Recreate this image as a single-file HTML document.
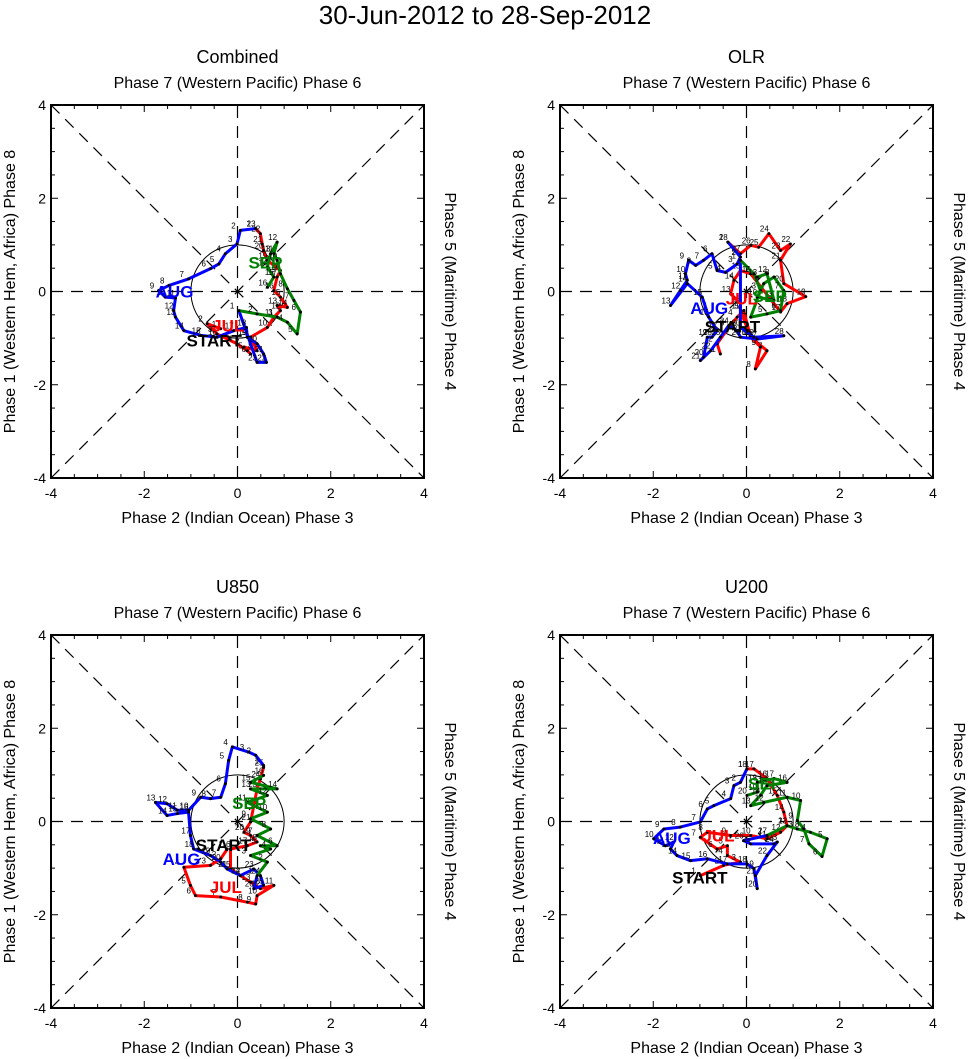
<!DOCTYPE html>
<html><head><meta charset="utf-8"><style>
body{margin:0;background:#fff;}
svg{display:block;font-family:"Liberation Sans",sans-serif;}
</style></head><body>
<svg id="chart" width="971" height="1059" viewBox="0 0 971 1059" xmlns="http://www.w3.org/2000/svg">
<text x="485" y="24" font-size="26" text-anchor="middle">30-Jun-2012 to 28-Sep-2012</text>
</svg>
<script>
// Panel 1: Combined
const p1Jul_x=[-0.36,-0.65,-0.44,-0.01,0.21,0.28,0.14,0.42,0.28,0.64,0.78,0.92,0.85,1.07,0.92,0.78,0.85,0.92,0.64,0.56,0.53,0.49,0.39];
const p1Jul_y=[-0.80,-0.69,-0.91,-1.12,-1.27,-1.34,-1.19,-1.27,-0.98,-0.77,-0.55,-0.41,-0.30,-0.34,-0.12,0.02,0.31,0.45,0.67,0.88,1.02,1.24,1.35];
const p1Aug_x=[0.39,0.06,-0.01,-0.26,-0.40,-0.58,-1.05,-1.47,-1.69,-1.55,-1.33,-1.37,-1.33,-1.15,-0.79,-0.44,-0.08,0.19,0.21,0.42,0.56,0.62,0.42];
const p1Aug_y=[1.35,1.31,1.02,0.81,0.59,0.49,0.27,0.13,0.02,-0.12,-0.14,-0.41,-0.55,-0.84,-0.94,-0.98,-0.84,-0.77,-0.98,-1.12,-1.34,-1.52,-1.52];
const p1Sep_x=[0.03,0.42,0.85,1.07,1.28,1.35,1.21,1.07,0.92,0.85,0.78,0.85,0.71,0.64,0.78,0.64];
const p1Sep_y=[-0.41,-0.48,-0.55,-0.66,-0.91,-0.44,-0.19,0.06,0.38,0.67,0.81,1.06,0.81,0.52,0.31,0.09];
// Panel 2: OLR
const p2Jul_x=[-0.56,-0.63,-0.38,-0.20,-0.06,0.09,0.44,0.19,0.30,0.09,-0.13,-0.13,-0.34,-0.27,-0.13,0.09,0.73,0.87,1.27,0.80,0.73,0.94,0.73,0.48,0.26,0.09,-0.13,-0.40];
const p2Jul_y=[-1.34,-1.12,-0.77,-0.55,-0.41,-0.98,-1.27,-1.66,-1.19,-0.98,-0.41,-0.26,-0.05,0.24,0.45,0.38,-0.44,-0.26,-0.11,0.17,0.67,1.02,0.88,1.24,0.95,0.99,0.81,1.06];
const p2Aug_x=[-0.40,-0.13,-0.20,-0.45,-0.63,-0.74,-0.92,-1.09,-1.24,-1.31,-1.27,-1.42,-1.63,-1.27,-0.95,-0.81,-0.63,-0.74,-0.84,-0.92,-0.99,-0.77,-0.56,-0.38,-0.20,-0.13,0.23,0.80,0.16,-0.13];
const p2Aug_y=[1.06,0.74,0.59,0.41,0.45,0.81,0.67,0.56,0.67,0.38,0.24,0.02,-0.30,0.17,-0.12,-0.55,-0.84,-0.98,-0.98,-1.41,-1.48,-1.27,-0.98,-0.73,-0.84,-0.98,-1.02,-0.95,-0.98,-0.77];
const p2Sep_x=[-0.13,0.16,0.30,0.09,0.44,0.73,0.80,0.59,0.37,0.23,0.59,0.44,0.23];
const p2Sep_y=[0.67,0.38,0.02,-0.55,-0.48,-0.41,0.02,0.31,0.17,-0.12,-0.19,0.38,0.31];
// Panel 3: U850
const p3Jul_x=[-0.22,-0.36,-0.58,-1.15,-1.01,-0.90,-0.36,0.21,0.39,0.42,0.78,0.49,0.28,0.06,-0.15,-0.15,0.21,0.42,0.28,0.14,0.28,0.35,0.42,0.49,0.56];
const p3Jul_y=[-0.59,-0.80,-0.94,-0.98,-1.37,-1.59,-1.62,-1.73,-1.77,-1.59,-1.37,-1.44,-1.30,-1.16,-1.02,-0.59,-0.52,-0.44,-0.30,-0.23,-0.01,0.34,0.70,0.91,1.16];
const p3Aug_x=[0.56,0.39,0.24,-0.11,-0.19,-0.26,-0.36,-0.58,-0.79,-1.05,-1.29,-1.51,-1.76,-1.51,-1.29,-1.05,-1.01,-0.94,-0.58,-0.36,-0.22,0.06,0.35,0.49,0.56,0.35];
const p3Aug_y=[1.20,1.42,1.49,1.60,1.31,0.81,0.52,0.49,0.52,0.24,0.24,0.38,0.41,0.13,0.17,0.20,-0.30,-0.59,-0.73,-0.87,-1.02,-1.16,-1.02,-1.16,-1.37,-1.44];
const p3Sep_x=[0.42,0.64,0.28,0.71,0.49,0.85,0.42,0.71,0.28,0.64,0.21,0.64,0.28,0.85,0.28,0.56];
const p3Sep_y=[-1.16,-0.87,-0.73,-0.59,-0.52,-0.52,-0.30,-0.16,0.06,0.20,0.41,0.56,0.70,0.70,0.84,0.99];
// Panel 4: U200
const p4Jul_x=[-0.99,-0.49,-0.13,-0.41,-0.41,-0.63,-0.99,-0.84,-0.34,0.09,0.44,0.73,0.87,0.80,0.66,0.44,0.16,0.01];
const p4Jul_y=[-1.16,-0.94,-0.87,-0.73,-0.52,-0.59,-0.34,-0.23,-0.30,-0.30,-0.37,-0.23,-0.09,0.20,0.56,0.92,1.13,1.13];
const p4Aug_x=[0.01,-0.13,-0.27,-0.34,-0.70,-0.84,-0.99,-1.42,-1.77,-1.99,-1.74,-1.56,-1.63,-1.49,-1.20,-0.84,-0.41,0.01,0.16,0.23,0.19,0.44,0.66,0.59,0.09,-0.06,0.44];
const p4Aug_y=[1.13,0.84,0.77,0.49,0.34,0.27,-0.01,-0.12,-0.16,-0.37,-0.52,-0.44,-0.59,-0.73,-0.84,-0.80,-0.91,-0.91,-1.01,-1.44,-1.16,-0.73,-0.44,-0.48,-0.48,-0.41,-0.30];
const p4Sep_x=[0.44,0.87,1.09,1.37,1.73,1.62,1.34,1.23,1.09,1.16,0.87,0.37,0.09,0.30,0.44,0.87,0.59,0.23,0.23,0.01];
const p4Sep_y=[-0.30,-0.09,-0.16,-0.23,-0.37,-0.75,-0.48,-0.16,0.02,0.45,0.52,0.41,0.34,0.56,0.77,0.84,0.92,0.84,0.63,0.56];
const tickVals=[-4,-2,0,2,4];
const panelTitles=["Combined","OLR","U850","U200"];
// month label positions (data coords): [JUL, AUG, SEP, START]
const monthLabelX=[[-0.2,-1.35,0.6,-0.5],[-0.1,-0.8,0.5,-0.3],[-0.25,-1.2,0.25,-0.3],[-0.6,-1.6,0.4,-1.0]];
const monthLabelY=[[-0.73,-0.0,0.62,-1.05],[-0.15,-0.35,-0.1,-0.75],[-1.4,-0.8,0.4,-0.5],[-0.3,-0.35,0.82,-1.2]];

const NS="http://www.w3.org/2000/svg";
const svg=document.getElementById('chart');
function mk(tag,attrs,parent){const e=document.createElementNS(NS,tag);for(const k in attrs)e.setAttribute(k,attrs[k]);(parent||svg).appendChild(e);return e;}
const panels=[
 {x0:51,y0:105,data:[[p1Jul_x,p1Jul_y],[p1Aug_x,p1Aug_y],[p1Sep_x,p1Sep_y]]},
 {x0:560,y0:105,data:[[p2Jul_x,p2Jul_y],[p2Aug_x,p2Aug_y],[p2Sep_x,p2Sep_y]]},
 {x0:51,y0:635,data:[[p3Jul_x,p3Jul_y],[p3Aug_x,p3Aug_y],[p3Sep_x,p3Sep_y]]},
 {x0:560,y0:635,data:[[p4Jul_x,p4Jul_y],[p4Aug_x,p4Aug_y],[p4Sep_x,p4Sep_y]]}];
const W=373,colors=["#ff0000","#0000ff","#008000"],mnames=["JUL","AUG","SEP"];
panels.forEach((P,pi)=>{
 const g=mk('g',{});
 
 
 const sx=v=>P.x0+(v+4)/8*W, sy=v=>P.y0+(4-v)/8*W;
 const cx=sx(0),cy=sy(0);
 const t=mk('text',{x:cx,y:P.y0-42,'font-size':18,'text-anchor':'middle'},g);t.textContent=panelTitles[pi];
 
 const t2=mk('text',{x:cx,y:P.y0-17,'font-size':16,'text-anchor':'middle'},g);t2.textContent="Phase 7 (Western Pacific) Phase 6";
 
 const t3=mk('text',{x:cx,y:P.y0+W+45,'font-size':16,'text-anchor':'middle'},g);t3.textContent="Phase 2 (Indian Ocean) Phase 3";
 
 const t4=mk('text',{x:0,y:0,'font-size':16,'text-anchor':'middle',transform:`translate(${P.x0-36},${cy}) rotate(-90)`},g);t4.textContent="Phase 1 (Western Hem, Africa) Phase 8";
 
 const t5=mk('text',{x:0,y:0,'font-size':16,'text-anchor':'middle',transform:`translate(${P.x0+W+21},${cy}) rotate(90)`},g);t5.textContent="Phase 5 (Maritime) Phase 4";
 
 // dashed lines
 const dl=[[-4,-4,4,4],[-4,4,4,-4],[-4,0,4,0],[0,-4,0,4]];
 dl.forEach(d=>{const l=mk('line',{x1:sx(d[0]),y1:sy(d[1]),x2:sx(d[2]),y2:sy(d[3]),stroke:'#000','stroke-width':1.2,'stroke-dasharray':'12,8'},g);
  });
 const c=mk('circle',{cx:cx,cy:cy,r:W/8,fill:'none',stroke:'#000','stroke-width':1},g);
 
 const b=mk('rect',{x:P.x0,y:P.y0,width:W,height:W,fill:'none',stroke:'#000','stroke-width':2},g);
 
 for(let v=-4;v<=4;v+=0.5){const maj=(v%2===0);const L=maj?7:4;
  mk('line',{x1:sx(v),y1:P.y0+W,x2:sx(v),y2:P.y0+W-L,stroke:'#000'},g);
  mk('line',{x1:sx(v),y1:P.y0,x2:sx(v),y2:P.y0+L,stroke:'#000'},g);
  mk('line',{x1:P.x0,y1:sy(v),x2:P.x0+L,y2:sy(v),stroke:'#000'},g);
  mk('line',{x1:P.x0+W,y1:sy(v),x2:P.x0+W-L,y2:sy(v),stroke:'#000'},g);}
 tickVals.forEach(v=>{
  const a=mk('text',{x:sx(v),y:P.y0+W+20,'font-size':14,'text-anchor':'middle'},g);a.textContent=v;
  
  const bb=mk('text',{x:P.x0-5,y:sy(v)+5,'font-size':14,'text-anchor':'end'},g);bb.textContent=v;
  });
 P.data.forEach((s,si)=>{
  let xs=s[0].slice(),ys=s[1].slice();
  if(si<2){const n=P.data[si+1];xs.push(n[0][0]);ys.push(n[1][0]);}
  const pts=xs.map((v,i)=>sx(v)+','+sy(ys[i])).join(' ');
  const pl=mk('polyline',{points:pts,fill:'none',stroke:colors[si],'stroke-width':3,'stroke-linejoin':'round'},g);
  
  s[0].forEach((v,i)=>{
   const d=mk('circle',{cx:sx(v),cy:sy(s[1][i]),r:1.5,fill:'#000'},g);
   
   const dt=mk('text',{x:sx(v)-9,y:sy(s[1][i])-2,'font-size':8},g);dt.textContent=i+1;
   });
 });
 mnames.concat(["START"]).forEach((m,mi)=>{
  const ml=mk('text',{x:sx(monthLabelX[pi][mi]),y:sy(monthLabelY[pi][mi])+6,'font-size':17,'font-weight':'bold','text-anchor':'middle',fill:mi<3?colors[mi]:'#000'},g);
  ml.textContent=m;
  });
});
</script>
</body></html>
